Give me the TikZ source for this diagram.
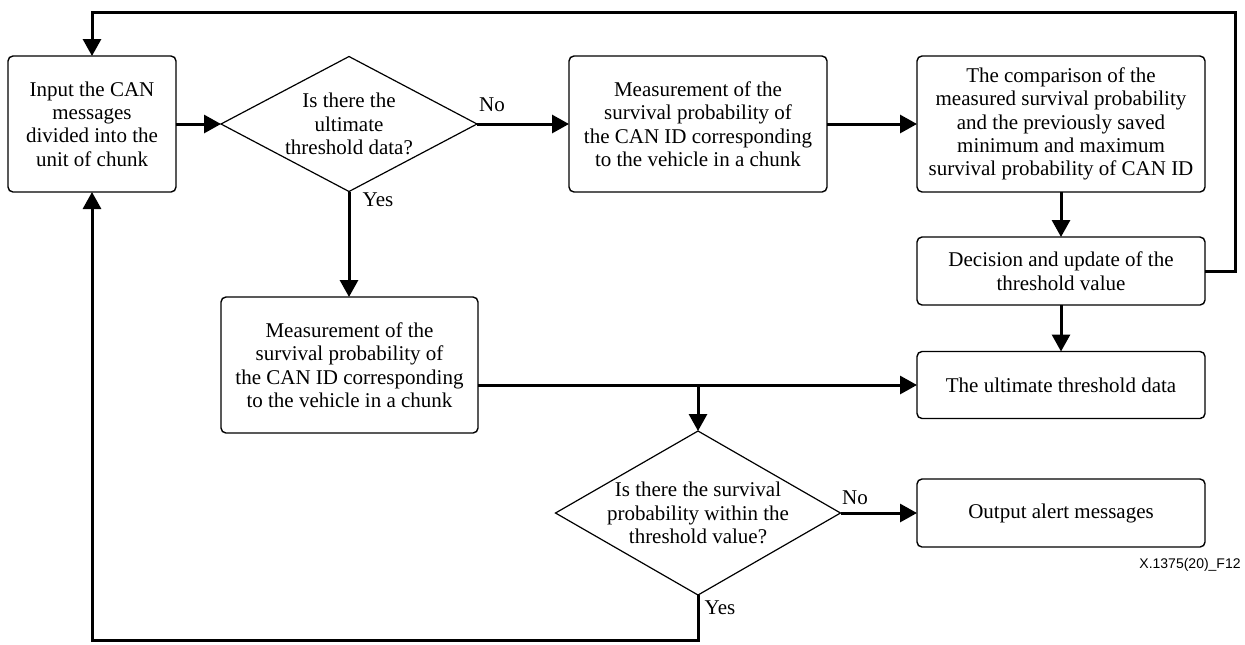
\documentclass[tikz,border=0pt]{standalone}
\usepackage{fontspec}
\setmainfont{Liberation Serif}
\newfontfamily\labelfont{Liberation Sans}
\usetikzlibrary{arrows.meta,shapes.geometric}
\begin{document}
\begin{tikzpicture}[x=0.5pt,y=-0.5pt,
  box/.style={draw, rounded corners=2.5pt, line width=0.7pt, align=center, inner sep=0pt, outer sep=0pt, font=\fontsize{10.5}{11.7}\selectfont},
  dia/.style={draw, diamond, line width=0.6pt, inner sep=0pt, outer sep=0pt},
  txt/.style={align=center, inner sep=0pt, font=\fontsize{10.5}{11.7}\selectfont},
  conn/.style={line width=1.5pt, -{Triangle[length=8.5pt,width=9pt]}},
  ]
\useasboundingbox (0,0) rectangle (1245,644);
% nodes
\node[box, minimum width=84pt, minimum height=68pt] (in) at (92,124) {Input the CAN\\messages\\divided into the\\unit of chunk};
\node[dia, minimum width=128pt, minimum height=67.5pt] (d1) at (349,124) {};
\node[txt] (d1t) at (d1.center) {Is there the\\ultimate\\threshold data?};
\node[box, minimum width=129pt, minimum height=68pt] (m1) at (698,124) {Measurement of the\\survival probability of\\the CAN ID corresponding\\to the vehicle in a chunk};
\node[box, minimum width=144pt, minimum height=68pt] (cmp) at (1061,124) {The comparison of the\\measured survival probability\\and the previously saved\\minimum and maximum\\survival probability of CAN ID};
\node[box, minimum width=144pt, minimum height=34pt] (dec) at (1061,271) {Decision and update of the\\threshold value};
\node[box, minimum width=128.5pt, minimum height=68pt] (m2) at (349.5,365) {Measurement of the\\survival probability of\\the CAN ID corresponding\\to the vehicle in a chunk};
\node[box, minimum width=144pt, minimum height=33.5pt] (ult) at (1061,385) {The ultimate threshold data};
\node[box, minimum width=144pt, minimum height=34pt] (out) at (1061,513) {Output alert messages};
\node[dia, minimum width=142.5pt, minimum height=82pt] (d2) at (698,513) {};
\node[txt] (d2t) at (d2.center) {Is there the survival\\probability within the\\threshold value?};
% labels
\node[txt] (no1) at (492,105) {No};
\node[txt] (yes1) at (378,200) {Yes};
\node[txt] (no2) at (855,498) {No};
\node[txt] (yes2) at (720,608) {Yes};
\node[font=\labelfont\fontsize{7}{8}\selectfont, anchor=east, inner sep=0pt] (fig) at (1241,565) {X.1375(20)\_F12};
% helper coordinates
\coordinate (tr) at (1235,12);
\coordinate (bl) at (92,640);
\coordinate (split) at (698,385);
% connectors
\draw[conn] (in.east) -- (d1.west);
\draw[conn] (d1.east) -- (m1.west);
\draw[conn] (m1.east) -- (cmp.west);
\draw[conn] (cmp.south) -- (dec.north);
\draw[conn] (dec.east) -- (dec.east -| tr) -- (tr) -- (in.north |- tr) -- (in.north);
\draw[conn] (d1.south) -- (d1.south |- m2.north);
\draw[conn] (m2.east |- ult.west) -- (ult.west);
\draw[conn] (split) -- (d2.north);
\draw[conn] (dec.south) -- (ult.north);
\draw[conn] (d2.east) -- (out.west);
\draw[conn] (d2.south) -- (d2.south |- bl) -- (bl) -- (in.south);
\end{tikzpicture}
\end{document}
